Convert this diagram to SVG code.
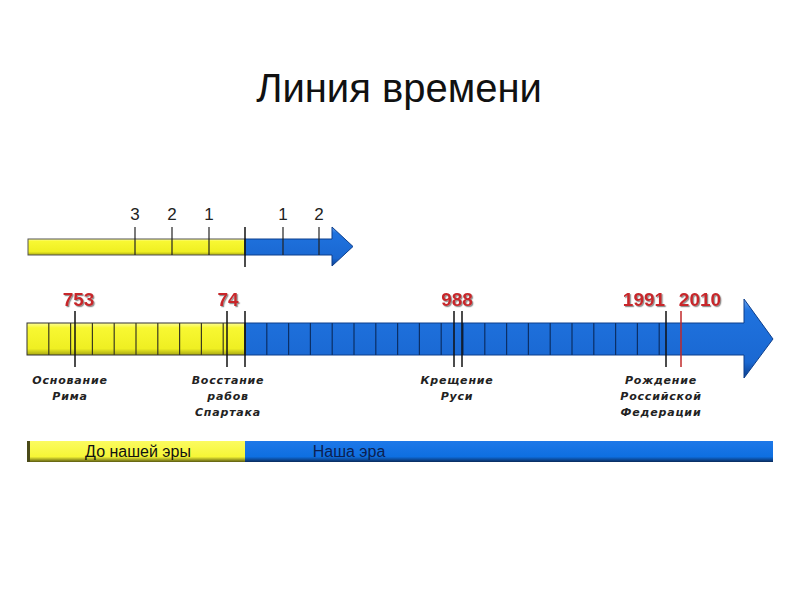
<svg xmlns="http://www.w3.org/2000/svg" width="800" height="600" viewBox="0 0 800 600">
<defs>
<linearGradient id="gy" x1="0" y1="0" x2="0" y2="1">
<stop offset="0" stop-color="#fdfd9a"/><stop offset="0.15" stop-color="#f8f832"/><stop offset="0.8" stop-color="#efef22"/><stop offset="1" stop-color="#a8a812"/>
</linearGradient>
<linearGradient id="gb" x1="0" y1="0" x2="0" y2="1">
<stop offset="0" stop-color="#6aa4f2"/><stop offset="0.15" stop-color="#1f72de"/><stop offset="0.8" stop-color="#1a68d2"/><stop offset="1" stop-color="#0d3f8c"/>
</linearGradient>
<linearGradient id="gyf" x1="0" y1="0" x2="0" y2="1">
<stop offset="0" stop-color="#fbfb60"/><stop offset="0.75" stop-color="#f6f636"/><stop offset="1" stop-color="#5a5a10"/>
</linearGradient>
<linearGradient id="gbf" x1="0" y1="0" x2="0" y2="1">
<stop offset="0" stop-color="#1e78e8"/><stop offset="0.75" stop-color="#0e6fe0"/><stop offset="1" stop-color="#0a2a5a"/>
</linearGradient>
<filter id="sh" x="-20%" y="-20%" width="140%" height="140%">
<feDropShadow dx="1.2" dy="1.2" stdDeviation="0.6" flood-color="#777" flood-opacity="0.8"/>
</filter>
<style>
.title{font-family:"Liberation Sans",Arial,sans-serif;font-size:40px;fill:#111;text-anchor:middle}
.num{font-family:"Liberation Sans",Arial,sans-serif;font-size:17px;fill:#222;text-anchor:middle}
.year{font-family:"Liberation Sans",Arial,sans-serif;font-size:19px;font-weight:bold;fill:#c8282c;text-anchor:middle;filter:url(#sh)}
.lbl{font-family:"DejaVu Sans",Verdana,sans-serif;font-size:11px;font-weight:bold;font-style:italic;fill:#222;text-anchor:middle;letter-spacing:0.8px}
.era{font-family:"Liberation Sans",Arial,sans-serif;font-size:16px;text-anchor:middle}
.cy{stroke:#3a3a20;stroke-width:1.2}
.cb{stroke:#0b2f66;stroke-width:1.2}
.tick{stroke:#222;stroke-width:1.2}
.ev{stroke:#111;stroke-width:1.5}
.evr{stroke:#c0282a;stroke-width:1.5}
.out{stroke:#333;stroke-width:1;fill:none}
</style>
</defs>

<g id="title"><text class="title" x="399" y="102">Линия времени</text></g>

<g id="small-arrow">
<rect x="28" y="239" width="217" height="16" fill="url(#gy)" stroke="#555" stroke-width="1"/>
<polygon points="245,239 332,239 332,227 353,246.5 332,266 332,255 245,255" fill="url(#gb)" stroke="#0d3f8c" stroke-width="1"/>
<line class="tick" x1="135" y1="227" x2="135" y2="255"/>
<line class="tick" x1="172" y1="227" x2="172" y2="255"/>
<line class="tick" x1="209" y1="227" x2="209" y2="255"/>
<line class="tick" x1="283" y1="227" x2="283" y2="255"/>
<line class="tick" x1="319" y1="227" x2="319" y2="255"/>
<line class="ev" x1="245" y1="227" x2="245" y2="267"/>
<text class="num" x="135" y="220">3</text>
<text class="num" x="172" y="220">2</text>
<text class="num" x="209" y="220">1</text>
<text class="num" x="283" y="220">1</text>
<text class="num" x="319" y="220">2</text>
</g>

<g id="big-arrow">
<rect x="27" y="323" width="218" height="32" fill="url(#gy)"/>
<polygon points="245,323 744,323 744,299 773,339 744,378 744,355 245,355" fill="url(#gb)" stroke="#0d3f8c" stroke-width="1"/>
<rect x="27" y="323" width="218" height="32" class="out"/>
<g class="cy">
<line x1="48.8" y1="323" x2="48.8" y2="355"/><line x1="70.6" y1="323" x2="70.6" y2="355"/>
<line x1="92.4" y1="323" x2="92.4" y2="355"/><line x1="114.2" y1="323" x2="114.2" y2="355"/>
<line x1="136" y1="323" x2="136" y2="355"/><line x1="157.8" y1="323" x2="157.8" y2="355"/>
<line x1="179.6" y1="323" x2="179.6" y2="355"/><line x1="201.4" y1="323" x2="201.4" y2="355"/>
<line x1="223.2" y1="323" x2="223.2" y2="355"/>
</g>
<g class="cb">
<line x1="266.8" y1="323" x2="266.8" y2="355"/><line x1="288.6" y1="323" x2="288.6" y2="355"/>
<line x1="310.4" y1="323" x2="310.4" y2="355"/><line x1="332.2" y1="323" x2="332.2" y2="355"/>
<line x1="354" y1="323" x2="354" y2="355"/><line x1="375.8" y1="323" x2="375.8" y2="355"/>
<line x1="397.6" y1="323" x2="397.6" y2="355"/><line x1="419.4" y1="323" x2="419.4" y2="355"/>
<line x1="441.2" y1="323" x2="441.2" y2="355"/><line x1="463" y1="323" x2="463" y2="355"/>
<line x1="484.8" y1="323" x2="484.8" y2="355"/><line x1="506.6" y1="323" x2="506.6" y2="355"/>
<line x1="528.4" y1="323" x2="528.4" y2="355"/><line x1="550.2" y1="323" x2="550.2" y2="355"/>
<line x1="572" y1="323" x2="572" y2="355"/><line x1="593.8" y1="323" x2="593.8" y2="355"/>
<line x1="615.6" y1="323" x2="615.6" y2="355"/><line x1="637.4" y1="323" x2="637.4" y2="355"/>
<line x1="659.2" y1="323" x2="659.2" y2="355"/>
</g>
</g>

<g id="event-753">
<line class="ev" x1="75" y1="311" x2="75" y2="367"/>
<text class="year" x="78.5" y="306">753</text>
<text class="lbl" x="70" y="384">Основание</text>
<text class="lbl" x="70" y="400">Рима</text>
</g>
<g id="event-74">
<line class="ev" x1="227" y1="311" x2="227" y2="367"/>
<text class="year" x="228" y="306">74</text>
<text class="lbl" x="228" y="384">Восстание</text>
<text class="lbl" x="228" y="400">рабов</text>
<text class="lbl" x="228" y="416">Спартака</text>
</g>
<g id="era-divider"><line class="ev" x1="245" y1="311" x2="245" y2="367"/></g>
<g id="event-988">
<line class="ev" x1="454" y1="311" x2="454" y2="367"/>
<line class="ev" x1="462" y1="311" x2="462" y2="367"/>
<text class="year" x="457" y="306">988</text>
<text class="lbl" x="457" y="384">Крещение</text>
<text class="lbl" x="457" y="400">Руси</text>
</g>
<g id="event-1991">
<line class="ev" x1="666" y1="311" x2="666" y2="367"/>
<text class="year" x="644" y="306">1991</text>
<text class="lbl" x="661" y="384">Рождение</text>
<text class="lbl" x="661" y="400">Российской</text>
<text class="lbl" x="661" y="416">Федерации</text>
</g>
<g id="event-2010">
<line class="evr" x1="681" y1="311" x2="681" y2="367"/>
<text class="year" x="700" y="306">2010</text>
</g>

<g id="era-bar">
<rect x="27" y="441" width="218" height="21" fill="url(#gyf)"/>
<rect x="245" y="441" width="528" height="21" fill="url(#gbf)"/>
<rect x="27" y="441" width="3" height="21" fill="#4a4a18"/>
<text class="era" x="138" y="457" fill="#111">До нашей эры</text>
<text class="era" x="349" y="457" fill="#0c2050">Наша эра</text>
</g>
</svg>
